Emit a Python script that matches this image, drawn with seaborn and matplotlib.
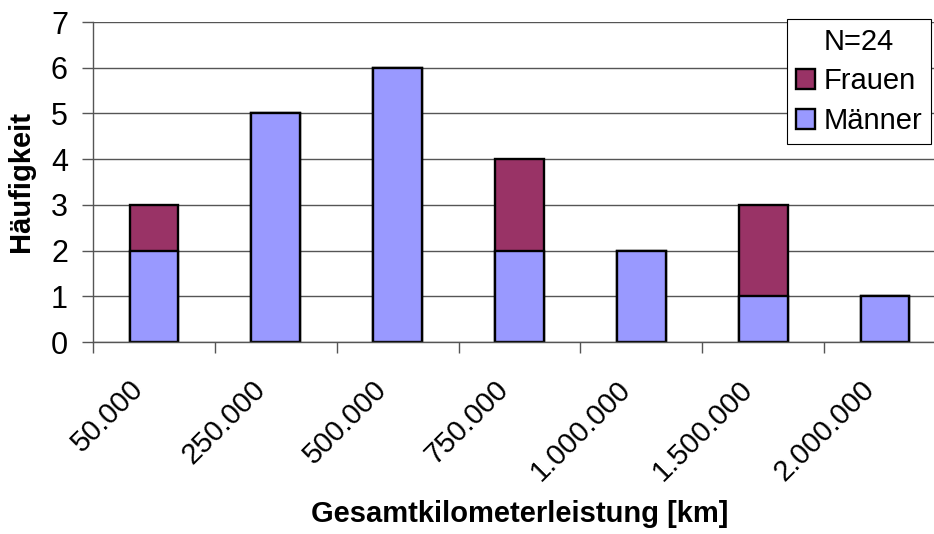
import numpy as np
import pandas as pd
import seaborn as sns
import matplotlib
matplotlib.use("Agg")
import matplotlib.pyplot as plt
import matplotlib.transforms as mtransforms
from matplotlib.patches import Patch

categories = ["50.000", "250.000", "500.000", "750.000", "1.000.000", "1.500.000", "2.000.000"]
maenner = [2, 5, 6, 2, 2, 1, 1]
frauen = [1, 0, 0, 2, 0, 2, 0]

col_m = "#9999FF"
col_f = "#993366"

df = pd.DataFrame({"kat": categories, "Männer": maenner, "Frauen": frauen})
df["gesamt"] = df["Männer"] + df["Frauen"]

sns.set_style("white")
plt.rcParams["font.family"] = ["Liberation Sans", "DejaVu Sans"]
plt.rcParams["text.color"] = "black"
plt.rcParams["axes.labelcolor"] = "black"
plt.rcParams["xtick.color"] = "black"
plt.rcParams["ytick.color"] = "black"

fig = plt.figure(figsize=(9.34, 5.34), dpi=100)
# the plot area runs past the right edge, as in the original
ax = fig.add_axes([93 / 934, 192 / 534, 853 / 934, 320 / 534])

sns.barplot(data=df, x="kat", y="gesamt", color=col_f, saturation=1, width=0.4,
            edgecolor="black", linewidth=1.7, ax=ax)
sns.barplot(data=df, x="kat", y="Männer", color=col_m, saturation=1, width=0.4,
            edgecolor="black", linewidth=1.7, ax=ax)

ax.set_xlim(-0.5, len(categories) - 0.5)
ax.set_ylim(0, 7)
ax.set_yticks(range(0, 8))
ax.yaxis.grid(True, color="#555555", linewidth=1)
ax.set_axisbelow(True)
for s in ["top", "right"]:
    ax.spines[s].set_visible(False)
for s in ["left", "bottom"]:
    ax.spines[s].set_color("#555555")
    ax.spines[s].set_linewidth(1)

ax.set_xticks(range(len(categories)))
ax.set_xticks(np.arange(-0.5, len(categories) - 0.5, 1), minor=True)
ax.tick_params(axis="x", which="major", bottom=True, length=0, pad=31)
ax.tick_params(axis="x", which="minor", bottom=True, length=8, width=1,
               color="#555555", direction="out")
ax.tick_params(axis="y", left=True, length=8, width=1, color="#555555",
               direction="out", labelsize=22, pad=10)
ax.set_xticklabels(categories, rotation=45, ha="right", va="center",
                   rotation_mode="anchor", fontsize=21)
shift = mtransforms.ScaledTranslation(-15 / 100, 0, fig.dpi_scale_trans)
for lbl in ax.get_xticklabels():
    lbl.set_transform(lbl.get_transform() + shift)

ax.set_xlabel("Gesamtkilometerleistung [km]", fontsize=21, fontweight="bold")
ax.set_ylabel("Häufigkeit", fontsize=21, fontweight="bold")
ax.xaxis.set_label_coords(0.5, (342 - 500) / 320)
ax.yaxis.set_label_coords((35 - 93) / 853, 0.5)

handles = [Patch(facecolor=col_f, edgecolor="black", linewidth=1.7, label="Frauen"),
           Patch(facecolor=col_m, edgecolor="black", linewidth=1.7, label="Männer")]
leg = ax.legend(handles=handles, title="N=24", loc="upper right",
                bbox_to_anchor=(931 / 934, 1 - 19 / 534), bbox_transform=fig.transFigure,
                fontsize=21, title_fontsize=21, fancybox=False, framealpha=1,
                edgecolor="black", handlelength=0.65, handleheight=0.65, handletextpad=0.3,
                borderpad=0.3, labelspacing=0.4, borderaxespad=0)
leg.get_frame().set_linewidth(0.8)

fig.savefig("out.png", dpi=100)
